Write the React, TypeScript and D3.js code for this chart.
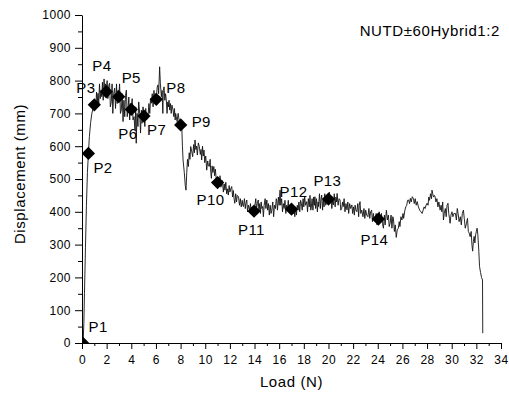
import { useEffect, useRef } from 'react';
import * as d3 from 'd3';

const W = 509;
const H = 394;
const FONT = '"Liberation Sans", Arial, Helvetica, sans-serif';

const TITLE = 'NUTD±60Hybrid1:2';
const X_TITLE = 'Load (N)';
const Y_TITLE = 'Displacement (mm)';

const X_TICKS = [0, 2, 4, 6, 8, 10, 12, 14, 16, 18, 20, 22, 24, 26, 28, 30, 32, 34];
const Y_TICKS = [0, 100, 200, 300, 400, 500, 600, 700, 800, 900, 1000];

// load-displacement trace
const CURVE_RISE: [number, number][] = [
  [0, 0], [0.05, 3], [0.1, 8], [0.15, 60], [0.2, 150], [0.28, 290], [0.36, 420], [0.44, 520],
  [0.52, 578], [0.6, 630], [0.7, 672], [0.8, 700], [0.9, 715], [1.0, 726],
];

const CURVE_PEAK: [number, number][] = [
  [1.06, 740], [1.12, 718], [1.18, 765], [1.24, 735], [1.3, 761], [1.36, 730], [1.42, 790], [1.48, 745],
  [1.54, 770], [1.6, 751], [1.66, 795], [1.72, 740], [1.79, 805], [1.85, 760], [1.9, 790], [1.97, 766],
  [2.04, 800], [2.1, 745], [2.17, 785], [2.24, 792], [2.3, 720], [2.38, 736], [2.44, 790], [2.5, 700],
  [2.57, 760], [2.65, 777], [2.72, 715], [2.8, 790], [2.86, 730], [2.92, 770], [2.98, 751],
  [3.05, 790], [3.12, 700], [3.19, 710], [3.26, 760], [3.33, 675], [3.4, 740], [3.47, 690], [3.53, 755],
  [3.6, 771], [3.67, 690], [3.73, 710], [3.8, 750], [3.87, 680], [3.93, 730], [4.0, 712],
  [4.07, 745], [4.14, 680], [4.22, 690], [4.3, 650], [4.36, 720], [4.4, 609], [4.47, 700], [4.54, 660],
  [4.6, 735], [4.68, 700], [4.75, 640], [4.82, 710], [4.88, 670], [4.95, 720], [5.03, 692],
  [5.1, 660], [5.17, 715], [5.24, 680], [5.3, 700], [5.36, 690], [5.43, 730], [5.5, 700], [5.56, 745],
  [5.63, 731], [5.7, 760], [5.77, 720], [5.84, 770], [5.9, 735], [5.96, 760], [6.03, 743],
  [6.1, 780], [6.17, 787], [6.22, 760], [6.3, 842], [6.36, 790], [6.44, 751], [6.5, 770], [6.56, 700],
  [6.6, 770], [6.66, 781], [6.72, 740], [6.78, 760], [6.84, 741], [6.9, 700], [6.96, 735],
  [7.02, 720], [7.06, 740], [7.12, 710], [7.18, 730], [7.24, 700], [7.3, 725], [7.39, 710], [7.45, 690],
  [7.5, 715], [7.56, 680], [7.6, 700], [7.65, 690], [7.72, 675], [7.8, 700], [7.88, 680], [7.95, 672],
  [8.01, 665],
];

const CURVE_DROP: [number, number][] = [
  [8.09, 667], [8.15, 600], [8.2, 558], [8.3, 520], [8.38, 480], [8.44, 466], [8.5, 520], [8.56, 560],
  [8.63, 538], [8.7, 580], [8.76, 560], [8.82, 599], [8.9, 585], [8.98, 568], [9.06, 605], [9.12, 580],
  [9.17, 619], [9.24, 590], [9.3, 600], [9.36, 573], [9.44, 610], [9.52, 599], [9.6, 575], [9.66, 590],
  [9.71, 558], [9.78, 600], [9.84, 570], [9.9, 588], [9.96, 550], [10.04, 570], [10.12, 527],
  [10.2, 555], [10.26, 540], [10.33, 538], [10.4, 560], [10.45, 520], [10.5, 502], [10.56, 540], [10.62, 520],
  [10.7, 538], [10.76, 510], [10.82, 530], [10.88, 505], [10.93, 497], [11.0, 489],
  [11.07, 505], [11.14, 480], [11.2, 510], [11.27, 475], [11.34, 482], [11.4, 495], [11.47, 460], [11.54, 485],
  [11.6, 466], [11.67, 490], [11.74, 455], [11.8, 470], [11.87, 451], [11.94, 480], [12.0, 460],
  [12.07, 470], [12.15, 477], [12.22, 445], [12.28, 465], [12.34, 440], [12.4, 426], [12.47, 455], [12.54, 430],
  [12.6, 450], [12.7, 446], [12.78, 420], [12.85, 440], [12.92, 415], [13.0, 435],
  [13.05, 420], [13.1, 416], [13.18, 440], [13.25, 410], [13.3, 425], [13.37, 436], [13.43, 400], [13.5, 420],
  [13.6, 405], [13.67, 425], [13.74, 395], [13.8, 415], [13.88, 390], [13.96, 402],
];

const CURVE_PLATEAU: [number, number][] = [
  [14.03, 420], [14.1, 440], [14.16, 410], [14.23, 425], [14.3, 436], [14.36, 400], [14.42, 425], [14.48, 395],
  [14.54, 430], [14.6, 410], [14.66, 416], [14.72, 385], [14.78, 420], [14.86, 440], [14.92, 410], [15.0, 436],
  [15.06, 405], [15.13, 425], [15.2, 390], [15.27, 420], [15.34, 395], [15.4, 405], [15.48, 430], [15.55, 385],
  [15.62, 420], [15.7, 410], [15.76, 440], [15.8, 436], [15.86, 405], [15.94, 445], [16.0, 420], [16.07, 466],
  [16.13, 420], [16.2, 440], [16.27, 400], [16.34, 425], [16.4, 410], [16.47, 435], [16.54, 395], [16.6, 420],
  [16.67, 405], [16.74, 435], [16.8, 400], [16.87, 420], [16.94, 395], [17.0, 408],
  [17.07, 420], [17.14, 395], [17.2, 410], [17.27, 385], [17.34, 415], [17.4, 390], [17.47, 420], [17.54, 405],
  [17.6, 430], [17.67, 400], [17.74, 435], [17.8, 426], [17.87, 405], [17.94, 440], [18.0, 415],
  [18.07, 445], [18.14, 420], [18.24, 431], [18.3, 400], [18.37, 440], [18.44, 415], [18.5, 450], [18.56, 405],
  [18.6, 411], [18.67, 440], [18.74, 405], [18.8, 445], [18.86, 420], [18.9, 446], [18.96, 410],
  [19.03, 440], [19.1, 400], [19.16, 430], [19.2, 416], [19.27, 455], [19.34, 410], [19.4, 440], [19.45, 451],
  [19.52, 405], [19.58, 440], [19.64, 415], [19.7, 455], [19.78, 420], [19.85, 450], [19.92, 425], [20.0, 439],
  [20.07, 460], [20.14, 430], [20.2, 445], [20.27, 410], [20.34, 435], [20.4, 421], [20.47, 455], [20.54, 415],
  [20.6, 445], [20.66, 430], [20.7, 456], [20.78, 420], [20.86, 440], [20.94, 436], [21.0, 405], [21.08, 411],
  [21.14, 430], [21.2, 416], [21.27, 440], [21.34, 400], [21.42, 425], [21.5, 406], [21.57, 430], [21.64, 395],
  [21.72, 425], [21.8, 410], [21.9, 421], [21.96, 395],
  [22.03, 415], [22.1, 390], [22.16, 420], [22.23, 405], [22.3, 400], [22.38, 425], [22.45, 385], [22.5, 420],
  [22.56, 431], [22.62, 395], [22.7, 405], [22.8, 385], [22.88, 410], [22.95, 380],
  [23.02, 405], [23.1, 390], [23.2, 385], [23.28, 410], [23.35, 380], [23.42, 400], [23.5, 405], [23.57, 370],
  [23.64, 395], [23.7, 375], [23.8, 370], [23.87, 395], [23.94, 360], [24.05, 378],
];

const CURVE_TAIL: [number, number][] = [
  [24.12, 400], [24.2, 380], [24.3, 395], [24.38, 365], [24.46, 350], [24.54, 390], [24.6, 360], [24.7, 405],
  [24.78, 375], [24.86, 390], [24.93, 355], [25.0, 365],
  [25.08, 390], [25.15, 350], [25.22, 385], [25.27, 380], [25.35, 340], [25.42, 360], [25.5, 322], [25.58, 345],
  [25.67, 350], [25.74, 370], [25.8, 355], [25.88, 385], [25.96, 375],
  [26.05, 395], [26.1, 380], [26.2, 405], [26.28, 416], [26.35, 420], [26.42, 435], [26.5, 436], [26.58, 425],
  [26.64, 441], [26.72, 430], [26.8, 446], [26.9, 440], [26.96, 425],
  [27.04, 440], [27.12, 420], [27.2, 431], [27.3, 415], [27.4, 405], [27.5, 400], [27.6, 395], [27.68, 405],
  [27.76, 415], [27.84, 410], [27.92, 420], [28.0, 426],
  [28.08, 420], [28.14, 445], [28.2, 435], [28.28, 455], [28.36, 440], [28.4, 466], [28.46, 455], [28.52, 445],
  [28.6, 450], [28.65, 446], [28.72, 430], [28.8, 440], [28.88, 415], [28.96, 430],
  [29.06, 405], [29.14, 420], [29.2, 400], [29.27, 430], [29.33, 375], [29.4, 395], [29.48, 410], [29.55, 385],
  [29.62, 420], [29.7, 426], [29.76, 395], [29.82, 380], [29.87, 365], [29.94, 390],
  [30.02, 400], [30.1, 385], [30.18, 395], [30.3, 395], [30.38, 375], [30.45, 410], [30.52, 395], [30.6, 370],
  [30.7, 385], [30.78, 360], [30.86, 395], [30.95, 405],
  [31.02, 380], [31.1, 350], [31.2, 365], [31.28, 380], [31.35, 340], [31.42, 335], [31.5, 324], [31.58, 340],
  [31.64, 300], [31.7, 280], [31.76, 310], [31.82, 325], [31.88, 305], [31.94, 330], [32.0, 340], [32.06, 350],
  [32.12, 330], [32.2, 280], [32.26, 233], [32.34, 215], [32.42, 200], [32.5, 192], [32.52, 30],
];

const CURVE = [...CURVE_RISE, ...CURVE_PEAK, ...CURVE_DROP, ...CURVE_PLATEAU, ...CURVE_TAIL];

// marked points P1..P14
const POINT_NAMES = ['P1', 'P2', 'P3', 'P4', 'P5', 'P6', 'P7', 'P8', 'P9', 'P10', 'P11', 'P12', 'P13', 'P14'];
const POINT_LOAD = [0.05, 0.52, 1.0, 1.97, 2.98, 4.0, 5.03, 6.03, 8.01, 11.0, 13.96, 17.0, 20.0, 24.05];
const POINT_DISP = [0, 578, 726, 766, 751, 712, 692, 743, 665, 489, 402, 408, 439, 378];

// label offsets from each marker (px)
const LABEL_OFFSET: [number, number][] = [
  [6, -11], [5, 20], [-18, -12], [-14, -21], [3, -14], [-13, 30], [3, 19],
  [10, -6], [11, 2], [-21, 22], [-16, 24], [-12, -12], [-15, -13], [-18, 26],
];

export default function App() {
  const ref = useRef<SVGSVGElement>(null);

  useEffect(() => {
    if (!ref.current) return;
    const svg = d3.select(ref.current);
    svg.selectAll('*').remove();

    const left = 82, right = 501, top = 15, bottom = 343;
    const x = d3.scaleLinear().domain([0, 34]).range([left, right]);
    const y = d3.scaleLinear().domain([0, 1000]).range([bottom, top]);

    svg.append('rect').attr('width', W).attr('height', H).attr('fill', '#fff');

    svg.append('defs').append('clipPath').attr('id', 'plot-clip')
      .append('rect')
      .attr('x', left).attr('y', top)
      .attr('width', right - left).attr('height', bottom - top);

    // minor ticks
    const xMinor = d3.range(1, 34, 2);
    const yMinor = d3.range(50, 1000, 100);

    const xAxis = svg.append('g')
      .attr('transform', `translate(0,${bottom})`)
      .call(d3.axisBottom(x).tickValues(X_TICKS).tickFormat(d3.format('d')).tickSize(6).tickPadding(6).tickSizeOuter(0));
    svg.append('g')
      .attr('transform', `translate(0,${bottom})`)
      .call(d3.axisBottom(x).tickValues(xMinor).tickSize(3).tickFormat(() => '').tickSizeOuter(0))
      .select('.domain').remove();

    const yAxis = svg.append('g')
      .attr('transform', `translate(${left},0)`)
      .call(d3.axisLeft(y).tickValues(Y_TICKS).tickFormat(d3.format('d')).tickSize(7).tickPadding(4).tickSizeOuter(0));
    svg.append('g')
      .attr('transform', `translate(${left},0)`)
      .call(d3.axisLeft(y).tickValues(yMinor).tickSize(4).tickFormat(() => '').tickSizeOuter(0))
      .select('.domain').remove();

    svg.selectAll('.domain, .tick line').attr('stroke', '#000').attr('stroke-width', 1);
    [xAxis, yAxis].forEach(g => g.selectAll('text')
      .attr('font-family', FONT)
      .attr('font-size', 12)
      .attr('letter-spacing', 0.5)
      .attr('fill', '#000'));

    // curve
    const line = d3.line<[number, number]>()
      .x(d => x(d[0]))
      .y(d => y(d[1]));

    const plot = svg.append('g').attr('clip-path', 'url(#plot-clip)');
    plot.append('path')
      .datum(CURVE)
      .attr('d', line)
      .attr('fill', 'none')
      .attr('stroke', '#111')
      .attr('stroke-width', 0.9)
      .attr('stroke-linejoin', 'round');

    const diamond = d3.symbol(d3.symbolSquare, 88)();
    plot.selectAll('path.pt')
      .data(POINT_NAMES)
      .join('path')
      .attr('class', 'pt')
      .attr('d', diamond)
      .attr('transform', (_, i) => `translate(${x(POINT_LOAD[i])},${y(POINT_DISP[i])}) rotate(45)`)
      .attr('fill', '#000');

    svg.selectAll('text.pl')
      .data(POINT_NAMES)
      .join('text')
      .attr('class', 'pl')
      .attr('x', (_, i) => x(POINT_LOAD[i]) + LABEL_OFFSET[i][0])
      .attr('y', (_, i) => y(POINT_DISP[i]) + LABEL_OFFSET[i][1])
      .attr('font-family', FONT)
      .attr('font-size', 15)
      .attr('letter-spacing', 0.4)
      .attr('fill', '#000')
      .text(d => d);

    // titles
    svg.append('text')
      .attr('x', (left + right) / 2)
      .attr('y', 387)
      .attr('text-anchor', 'middle')
      .attr('font-family', FONT)
      .attr('font-size', 15)
      .attr('letter-spacing', 0.6)
      .text(X_TITLE);

    svg.append('text')
      .attr('transform', `translate(25,174) rotate(-90)`)
      .attr('text-anchor', 'middle')
      .attr('font-family', FONT)
      .attr('font-size', 15)
      .attr('letter-spacing', 0.6)
      .text(Y_TITLE);

    svg.append('text')
      .attr('x', 500)
      .attr('y', 36)
      .attr('text-anchor', 'end')
      .attr('font-family', FONT)
      .attr('font-size', 15)
      .attr('letter-spacing', 0.6)
      .text(TITLE);
  }, []);

  return (
    <div style={{ position: 'fixed', left: 0, top: 0 }}>
      <svg ref={ref} width={W} height={H} style={{ display: 'block' }} />
    </div>
  );
}
